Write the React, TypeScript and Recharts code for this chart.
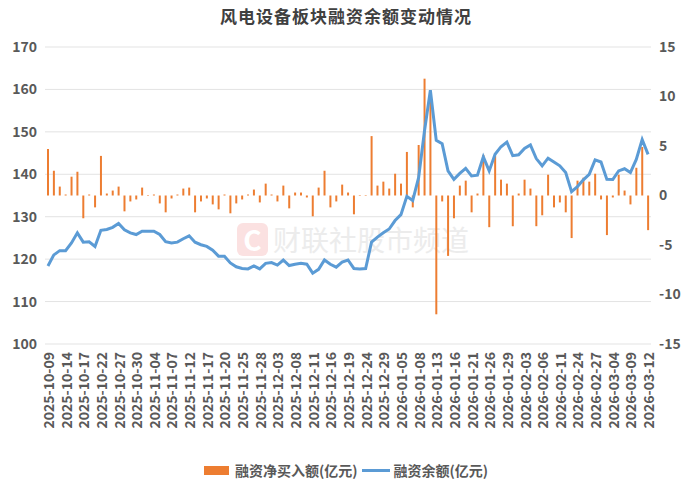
import React from "react";
import { ComposedChart, Bar, Line, XAxis, YAxis, CartesianGrid, Legend } from "recharts";

// trading days, 2025-10-09 .. 2026-03-12
const dates = [
  "2025-10-09", "2025-10-10", "2025-10-13", "2025-10-14", "2025-10-15", "2025-10-16", "2025-10-17", "2025-10-20",
  "2025-10-21", "2025-10-22", "2025-10-23", "2025-10-24", "2025-10-27", "2025-10-28", "2025-10-29", "2025-10-30",
  "2025-10-31", "2025-11-03", "2025-11-04", "2025-11-05", "2025-11-06", "2025-11-07", "2025-11-10", "2025-11-11",
  "2025-11-12", "2025-11-13", "2025-11-14", "2025-11-17", "2025-11-18", "2025-11-19", "2025-11-20", "2025-11-21",
  "2025-11-24", "2025-11-25", "2025-11-26", "2025-11-27", "2025-11-28", "2025-12-01", "2025-12-02", "2025-12-03",
  "2025-12-04", "2025-12-05", "2025-12-08", "2025-12-09", "2025-12-10", "2025-12-11", "2025-12-12", "2025-12-15",
  "2025-12-16", "2025-12-17", "2025-12-18", "2025-12-19", "2025-12-22", "2025-12-23", "2025-12-24", "2025-12-25",
  "2025-12-26", "2025-12-29", "2025-12-30", "2025-12-31", "2026-01-05", "2026-01-06", "2026-01-07", "2026-01-08",
  "2026-01-09", "2026-01-12", "2026-01-13", "2026-01-14", "2026-01-15", "2026-01-16", "2026-01-19", "2026-01-20",
  "2026-01-21", "2026-01-22", "2026-01-23", "2026-01-26", "2026-01-27", "2026-01-28", "2026-01-29", "2026-01-30",
  "2026-02-02", "2026-02-03", "2026-02-04", "2026-02-05", "2026-02-06", "2026-02-09", "2026-02-10", "2026-02-11",
  "2026-02-12", "2026-02-13", "2026-02-24", "2026-02-25", "2026-02-26", "2026-02-27", "2026-03-02", "2026-03-03",
  "2026-03-04", "2026-03-05", "2026-03-06", "2026-03-09", "2026-03-10", "2026-03-11", "2026-03-12",
];

// 融资净买入额 (亿元), right axis
const netBuy = [
  4.7, 2.5, 0.9, 0.1, 1.9, 2.4, -2.3, 0.1, -1.2, 4.0, 0.2, 0.5, 0.9, -1.6, -0.6, -0.4, 0.8,
  0.05, 0.1, -0.8, -1.7, -0.3, 0.1, 0.7, 0.8, -1.7, -0.6, -0.3, -0.9, -1.4, 0.1, -1.8, -0.8, -0.4,
  0.1, 0.6, -0.7, 1.2, 0.1, -0.6, 1.0, -1.3, 0.3, 0.3, -0.2, -2.1, 0.8, 2.5, -1.2, -0.6, 1.1, 0.3,
  -1.9, 0.05, 0.05, 6.0, 1.0, 1.4, 0.7, 2.2, 1.2, 4.4, -1.2, 5.1, 11.8, 10.5, -12.0, -0.6, -6.1,
  -2.3, 1.0, 1.5, -1.7, 0.2, 4.1, -3.2, 4.0, 1.6, 1.2, -3.1, 0.2, 1.6, 0.7, -3.1, -2.0, 2.1,
  -1.2, -0.7, -1.7, -4.3, 1.5, 1.8, 1.4, 2.2, -0.4, -4.0, -0.2, 2.1, 0.5, -0.9, 2.8, 4.9, -3.5,
];

// 融资余额 (亿元), left axis
const balance = [
  118.4, 121.0, 122.0, 122.0, 123.8, 126.2, 124.0, 124.1, 123.0, 126.8, 127.0, 127.5, 128.4, 126.9, 126.2, 125.8, 126.6,
  126.6, 126.6, 125.8, 124.1, 123.8, 124.0, 124.8, 125.5, 124.0, 123.4, 123.0, 122.1, 120.7, 120.7, 119.1, 118.2, 117.8,
  117.7, 118.4, 117.7, 119.0, 119.2, 118.6, 119.8, 118.5, 118.8, 119.0, 118.8, 116.7, 117.6, 119.8, 118.8, 118.1, 119.3, 119.8,
  117.8, 117.7, 117.8, 124.0, 125.2, 126.2, 127.1, 129.1, 130.5, 134.8, 133.8, 139.2, 150.2, 159.8, 148.0, 147.2, 140.8,
  138.8, 140.2, 141.4, 139.6, 139.8, 144.1, 140.8, 144.7, 146.5, 147.6, 144.4, 144.6, 146.1, 146.9, 143.7, 142.0, 143.8,
  142.9, 142.0, 140.4, 135.9, 137.1, 138.7, 140.0, 143.4, 142.9, 138.8, 138.75, 140.8, 141.3, 140.4, 143.5, 148.2, 144.7,
];

const leftTicks = [100, 110, 120, 130, 140, 150, 160, 170];
const rightTicks = [-15, -10, -5, 0, 5, 10, 15];

const BAR_NAME = "融资净买入额(亿元)";
const LINE_NAME = "融资余额(亿元)";
const ORANGE = "#ED7D31";
const BLUE = "#5B9BD5";

const data = dates.map((d, i) => ({ date: d, netBuy: netBuy[i], balance: balance[i] }));

const FONT = '"Noto Sans CJK SC", "Noto Sans", sans-serif';
const GREY = "#595959";

const DateTick = (props: any) => {
  const { x, y, payload } = props;
  return (
    <text
      x={x}
      y={y}
      transform={`rotate(-90, ${x}, ${y})`}
      textAnchor="end"
      dominantBaseline="central"
      fill={GREY}
      fontSize={14}
      fontWeight={700}
      fontFamily={FONT}
    >
      {payload.value}
    </text>
  );
};

// bar entry first, like the original
const LegendBox = () => (
  <div style={{ height: 24, display: "flex", justifyContent: "center", alignItems: "center", fontFamily: FONT, fontSize: 14, fontWeight: 700, color: GREY }}>
    <span style={{ width: 25, height: 9, background: ORANGE, marginRight: 6 }} />
    <span style={{ marginRight: 4 }}>{BAR_NAME}</span>
    <span style={{ width: 28, height: 3, background: BLUE, marginRight: 4 }} />
    <span>{LINE_NAME}</span>
  </div>
);

export default function App() {
  return (
    <div style={{ position: "absolute", left: 0, top: 0, width: 692, height: 490, background: "#fff", fontFamily: FONT }}>
      <div style={{ position: "absolute", top: 3, left: 0, width: 692, textAlign: "center", fontSize: 17, fontWeight: 700, color: "#404040", letterSpacing: 1 }}>
        风电设备板块融资余额变动情况
      </div>
      {/* watermark */}
      <div style={{ position: "absolute", left: 237, top: 223, width: 31, height: 33, borderRadius: 6, background: "#fbe1e1", color: "#fff", fontSize: 28, fontWeight: 700, lineHeight: "33px", textAlign: "center" }}>
        C
      </div>
      <div style={{ position: "absolute", left: 273, top: 219, fontSize: 28, color: "#ececec", whiteSpace: "nowrap" }}>
        财联社股市频道
      </div>
      <div style={{ position: "absolute", left: 0, top: 0 }}>
        <ComposedChart width={692} height={490} data={data} margin={{ top: 47, right: 0, left: 0, bottom: 8 }}>
          <CartesianGrid yAxisId="left" vertical={false} stroke="#e3e3e3" />
          <XAxis dataKey="date" interval={2} height={114} axisLine={false} tickLine={false} tick={<DateTick />} />
          <YAxis
            yAxisId="left"
            domain={[100, 170]}
            ticks={leftTicks}
            width={45}
            axisLine={false}
            tickLine={false}
            tick={{ fill: GREY, fontSize: 14, fontWeight: 700, fontFamily: FONT }}
          />
          <YAxis
            yAxisId="right"
            orientation="right"
            domain={[-15, 15]}
            ticks={rightTicks}
            width={41}
            axisLine={false}
            tickLine={false}
            tick={{ fill: GREY, fontSize: 14, fontWeight: 700, fontFamily: FONT }}
          />
          <Legend verticalAlign="bottom" content={<LegendBox />} />
          <Bar yAxisId="right" dataKey="netBuy" name={BAR_NAME} fill={ORANGE} barSize={2} isAnimationActive={false} />
          <Line yAxisId="left" dataKey="balance" name={LINE_NAME} type="linear" stroke={BLUE} strokeWidth={3} dot={false} isAnimationActive={false} />
        </ComposedChart>
      </div>
    </div>
  );
}
